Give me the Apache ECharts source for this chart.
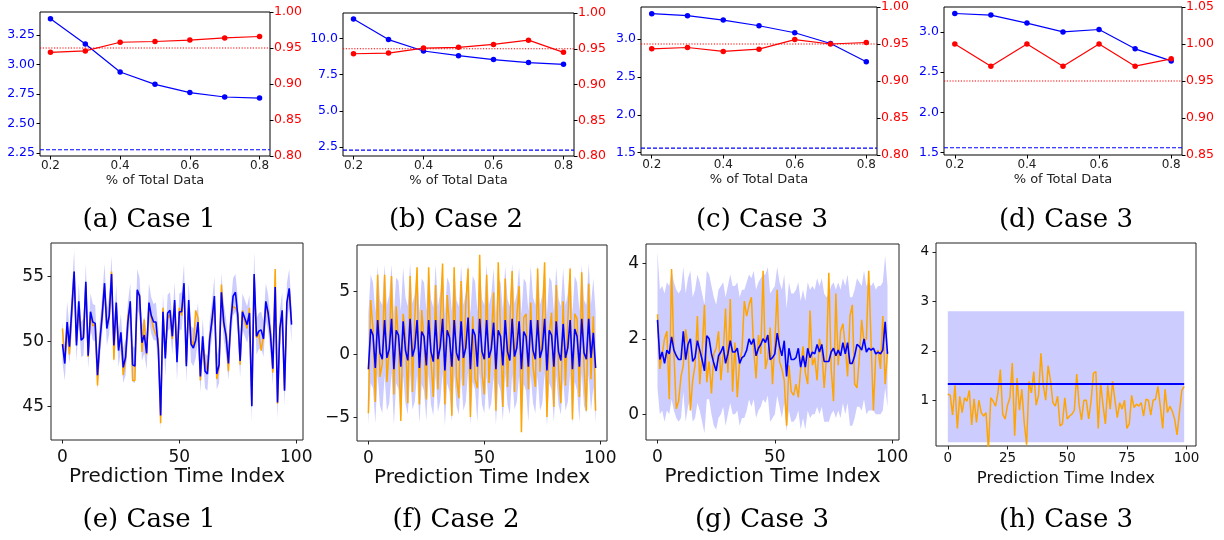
<!DOCTYPE html>
<html><head><meta charset="utf-8">
<script src="https://cdn.jsdelivr.net/npm/echarts@6/dist/echarts.min.js"></script>
<style>html,body{margin:0;padding:0;background:#fff}#c{width:1224px;height:540px}</style>
</head><body><div id="c"></div>
<script>
// ---------- top row data ----------
const pctX = [0.2, 0.3, 0.4, 0.5, 0.6, 0.7, 0.8];
const topXTicks = [0.2, 0.4, 0.6, 0.8];
const aBlue = [3.388, 3.174, 2.937, 2.832, 2.762, 2.725, 2.716];
const aRed = [0.944, 0.946, 0.958, 0.959, 0.961, 0.964, 0.966];
const aBlueRef = 2.278, aRedRef = 0.95;
const aLeftTicks = [2.25, 2.5, 2.75, 3.0, 3.25];
const bBlue = [11.36, 9.93, 9.14, 8.82, 8.55, 8.34, 8.22];
const bRed = [0.943, 0.944, 0.951, 0.952, 0.956, 0.962, 0.945];
const bBlueRef = 2.29, bRedRef = 0.95;
const bLeftTicks = [2.5, 5.0, 7.5, 10.0];
const cBlue = [3.335, 3.308, 3.251, 3.176, 3.083, 2.942, 2.70];
const cRed = [0.9435, 0.9453, 0.940, 0.943, 0.956, 0.950, 0.952];
const cBlueRef = 1.562, cRedRef = 0.95;
const cLeftTicks = [1.5, 2.0, 2.5, 3.0];
const dBlue = [3.229, 3.21, 3.11, 3.00, 3.03, 2.79, 2.64];
const dRed = [1.0, 0.97, 1.0, 0.97, 1.0, 0.97, 0.98];
const dBlueRef = 1.56, dRedRef = 0.95;
const dLeftTicks = [1.5, 2.0, 2.5, 3.0];
const rightTicksABC = [0.80, 0.85, 0.90, 0.95, 1.00];
const rightTicksD = [0.85, 0.90, 0.95, 1.00, 1.05];

// ---------- bottom row data ----------
const eTruth = [51.0,48.5,51.3,49.0,52.2,55.4,50.0,52.5,50.3,50.5,54.4,48.8,52.0,51.2,51.3,46.6,50.2,52.2,54.2,51.2,51.8,55.4,48.6,52.7,49.5,50.5,47.4,48.6,52.0,52.8,47.0,47.0,53.8,53.6,49.2,51.7,49.0,52.7,51.8,51.0,50.5,50.2,43.7,52.6,48.9,51.8,52.1,50.2,53.0,48.7,52.6,52.0,54.3,48.3,52.7,50.1,49.7,52.4,51.8,47.0,49.8,48.5,47.7,50.4,51.5,53.0,47.1,48.0,54.4,51.2,50.6,47.7,51.8,52.7,52.6,52.2,48.2,52.4,51.5,51.0,52.6,45.1,55.0,50.3,50.6,49.3,50.4,52.8,52.0,50.8,47.6,55.6,45.2,50.8,52.2,46.3,52.8,54.0,51.5];
const ePred = [49.8,48.3,51.5,49.6,52.5,55.4,49.7,53.1,50.1,50.3,54.6,48.9,52.3,51.5,51.4,47.4,50.0,52.0,54.5,51.0,52.0,55.2,49.7,53.0,49.3,50.7,48.0,48.8,51.5,53.1,48.2,48.1,54.0,53.5,49.9,50.5,49.1,53.0,52.0,51.5,51.5,49.5,44.3,52.3,48.7,52.2,52.4,50.4,53.2,48.4,52.3,52.3,54.5,48.1,53.2,49.8,49.5,50.1,51.5,47.3,50.4,47.7,47.5,50.2,51.7,53.5,47.5,48.2,53.8,51.5,50.4,48.3,51.5,53.5,53.8,52.0,48.5,52.3,51.8,51.3,52.2,45.0,55.2,50.4,50.8,50.9,50.2,53.1,52.2,50.5,47.9,54.2,45.3,51.0,52.4,46.2,53.0,54.1,51.3];
const eLow = [48.4,47.0,50.0,48.3,50.8,53.7,48.5,51.6,48.8,48.9,53.1,47.9,50.9,50.1,50.0,46.3,48.7,50.6,53.0,49.7,50.6,53.7,48.3,51.6,48.0,49.3,46.8,47.4,50.0,51.7,46.9,46.8,52.5,52.0,48.5,49.1,47.8,51.6,50.6,50.1,50.1,48.1,43.2,50.9,47.3,50.8,51.0,49.0,51.8,47.0,50.9,50.9,53.0,46.8,51.8,48.4,48.1,48.7,50.1,46.1,49.0,46.4,46.2,48.8,50.3,52.0,46.3,46.8,52.3,50.1,49.0,47.0,50.1,52.0,52.3,50.6,47.2,50.9,50.4,49.9,50.8,43.8,53.6,49.0,49.4,49.5,48.8,51.7,50.8,49.1,46.6,52.7,44.0,49.6,51.0,45.0,51.6,52.6,49.9];
const eHigh = [51.5,49.7,53.1,51.0,54.0,57.0,51.2,54.5,51.5,51.8,56.0,50.4,53.7,52.9,52.8,48.9,51.5,53.5,56.0,52.5,53.5,56.6,51.1,54.4,50.8,52.1,49.5,50.2,53.0,54.5,49.7,49.5,55.6,54.9,51.3,51.9,50.6,54.5,53.4,52.9,53.0,51.0,45.8,53.7,50.1,53.6,53.8,51.8,54.6,49.8,53.7,53.8,56.0,49.5,54.6,51.2,51.0,51.5,53.0,48.7,51.8,49.1,48.9,51.6,53.1,55.0,48.9,49.6,55.3,52.9,51.8,49.7,52.9,54.9,55.2,53.4,49.9,53.7,53.2,52.7,53.6,46.5,56.9,51.8,52.2,52.3,51.6,54.5,53.6,51.9,49.3,55.8,46.7,52.4,53.8,47.6,54.5,55.6,52.7];

const fTruth = [-4.7,4.3,2.0,-3.8,6.3,-1.8,-0.8,6.3,-2.2,0.5,6.2,-3.2,3.8,1.0,-5.3,3.2,1.5,-3.9,6.2,-3.0,2.8,6.9,-4.0,3.5,1.2,-3.6,6.9,-0.5,-3.4,5.5,-2.8,2.5,7.2,-4.0,4.7,2.2,-4.9,6.9,-1.8,-3.5,5.8,-2.5,3.9,6.8,-5.0,3.0,-2.0,-2.7,7.9,-1.5,-3.2,6.3,-2.3,1.0,4.9,-4.5,7.3,1.7,-4.2,6.0,-2.6,2.4,6.6,-3.0,3.0,5.4,-6.2,2.9,3.2,-2.8,4.1,-1.0,-2.6,6.8,-1.4,2.2,7.3,-5.0,1.6,3.3,-4.2,5.5,-1.2,-3.9,4.2,-2.5,2.6,6.8,-5.2,3.2,2.8,-3.4,6.5,-1.0,-4.5,5.6,-2.0,3.0,-4.5];
const fPred = [-1.2,2.0,1.5,-1.1,2.7,0.1,-0.4,2.7,-0.3,0.4,2.8,-1.2,1.9,1.5,-1.0,2.6,0.3,-0.5,2.8,-0.2,0.5,2.7,-1.1,1.8,1.4,-0.9,2.7,0.2,-0.6,2.7,-0.4,0.6,2.8,-1.3,1.9,1.3,-1.0,2.7,0.1,-0.5,2.6,-0.3,0.5,2.9,-1.2,2.0,1.5,-1.0,2.8,0.2,-0.4,2.7,-0.3,0.4,2.5,-1.2,1.9,1.4,-0.9,2.7,0.2,-0.5,2.8,-0.2,0.5,2.6,-1.2,1.8,1.4,-1.0,2.7,0.3,-0.4,2.7,-0.3,0.4,2.8,-1.3,1.9,1.5,-1.0,2.6,0.2,-0.5,2.4,-0.3,0.5,2.7,-1.2,2.0,1.4,-1.0,2.8,0.1,-0.4,2.8,-0.3,1.7,-1.1];
const fLow = [-5.6,-2.3,-2.7,-5.5,-1.6,-4.1,-4.7,-1.7,-4.5,-3.9,-1.5,-5.6,-2.3,-2.8,-5.4,-1.7,-3.9,-4.8,-1.6,-4.4,-3.8,-1.6,-5.5,-2.4,-2.9,-5.3,-1.6,-4.0,-4.9,-1.7,-4.6,-3.7,-1.5,-5.7,-2.3,-3.0,-5.4,-1.6,-4.1,-4.8,-1.8,-4.5,-3.8,-1.4,-5.6,-2.2,-2.8,-5.4,-1.5,-4.0,-4.7,-1.7,-4.5,-3.9,-1.8,-5.6,-2.3,-2.9,-5.3,-1.6,-4.0,-4.8,-1.6,-4.4,-3.8,-1.7,-5.6,-2.4,-2.9,-5.4,-1.6,-3.9,-4.7,-1.7,-4.5,-3.9,-1.5,-5.7,-2.3,-2.8,-5.4,-1.7,-4.0,-4.8,-2.0,-4.5,-3.8,-1.6,-5.6,-2.2,-2.9,-5.4,-1.5,-4.1,-4.7,-1.6,-4.5,-2.6,-5.5];
const fHigh = [3.2,6.3,5.7,3.3,7.0,4.3,3.9,7.1,3.9,4.7,7.1,3.2,6.1,5.8,3.4,6.9,4.5,3.8,7.2,4.0,4.8,7.0,3.3,6.0,5.7,3.5,7.0,4.4,3.7,7.1,3.8,4.9,7.1,3.1,6.1,5.6,3.4,7.0,4.3,3.8,7.0,3.9,4.8,7.2,3.2,6.2,5.8,3.4,7.1,4.4,3.9,7.1,3.9,4.7,6.8,3.2,6.1,5.7,3.5,7.0,4.4,3.8,7.2,4.0,4.8,6.9,3.2,6.0,5.7,3.4,7.0,4.5,3.9,7.1,3.9,4.7,7.1,3.1,6.1,5.8,3.4,6.9,4.4,3.8,6.8,3.9,4.8,7.0,3.2,6.2,5.7,3.4,7.1,4.3,3.9,7.2,3.9,6.0,3.3];

const gTruth = [2.65,1.2,1.6,2.0,2.2,0.4,3.85,1.6,0.15,0.35,1.0,1.3,2.25,1.8,0.1,0.9,1.3,2.6,0.8,1.6,2.9,0.85,1.4,0.55,1.6,1.75,2.2,0.9,1.6,2.8,1.1,3.05,0.6,1.9,0.45,1.4,1.7,3.0,2.6,2.9,3.1,1.7,0.95,2.1,1.6,3.8,1.2,1.5,2.3,0.8,1.9,3.3,1.4,1.2,0.9,-0.3,1.3,0.6,0.5,0.8,0.45,1.2,1.8,1.1,0.8,2.75,1.3,1.5,0.9,2.0,1.7,0.7,1.5,3.75,1.2,0.35,3.2,1.3,2.2,2.4,1.8,1.0,2.6,2.9,0.8,0.7,1.5,2.5,1.9,2.0,3.8,1.9,0.1,1.6,1.7,1.2,2.6,0.8,1.65];
const gPred = [2.5,1.45,1.65,1.35,1.7,1.6,2.05,1.7,1.55,1.45,1.45,2.2,1.45,1.85,2.0,1.4,1.5,1.95,1.7,1.45,1.15,2.08,2.0,1.6,1.35,1.15,1.55,1.65,1.8,1.35,1.6,1.95,1.65,1.65,1.75,1.35,1.5,1.55,1.7,2.0,1.85,2.0,1.55,1.75,1.85,2.0,1.9,2.1,1.45,1.5,1.6,2.15,1.8,1.55,1.95,1.0,1.75,1.45,1.45,1.5,1.75,1.25,1.55,1.25,1.75,1.5,1.65,1.6,1.85,1.65,1.85,1.4,1.4,1.4,1.65,1.75,1.55,1.7,1.55,1.9,1.6,1.9,1.35,1.35,1.55,1.85,1.8,1.7,2.0,1.65,1.75,1.7,1.75,1.6,1.65,1.6,1.7,2.45,1.6];
const gLow = [0.7,0.0,0.1,-0.2,0.1,0.0,0.4,0.1,-0.1,-0.2,-0.1,0.6,-0.2,0.2,0.4,-0.2,-0.1,0.3,0.1,-0.2,-0.5,0.4,0.4,0.0,-0.3,-0.4,-0.1,0.0,0.2,-0.3,0.0,0.3,0.0,0.0,0.1,-0.3,-0.1,-0.1,0.1,0.4,0.2,0.4,-0.1,0.1,0.2,0.4,0.3,0.5,-0.2,-0.1,0.0,0.5,0.2,-0.1,0.3,-0.45,0.1,-0.2,-0.2,-0.1,0.1,-0.4,-0.1,-0.4,0.1,-0.1,0.0,0.0,0.2,0.0,0.2,-0.2,-0.2,-0.2,0.0,0.1,-0.1,0.1,-0.1,0.3,0.0,0.3,-0.3,-0.3,-0.1,0.2,0.2,0.1,0.4,0.0,0.1,0.1,0.1,0.0,0.0,0.0,0.1,0.7,0.2];
const gHigh = [4.3,3.3,3.4,3.2,3.5,3.4,3.8,3.5,3.3,3.2,3.3,3.9,3.2,3.6,3.8,3.1,3.3,3.7,3.5,3.2,2.9,3.8,3.7,3.4,3.1,2.9,3.3,3.4,3.5,3.1,3.4,3.7,3.4,3.4,3.5,3.1,3.3,3.3,3.5,3.7,3.6,3.8,3.3,3.5,3.6,3.7,3.7,3.9,3.2,3.3,3.4,3.9,3.5,3.3,3.7,2.8,3.5,3.2,3.2,3.3,3.5,3.0,3.3,3.0,3.5,3.3,3.4,3.3,3.6,3.4,3.6,3.2,3.1,3.2,3.4,3.5,3.3,3.5,3.3,3.6,3.4,3.7,3.1,3.1,3.3,3.6,3.5,3.4,3.8,3.4,3.5,3.4,3.5,3.3,3.4,3.4,3.5,4.2,3.4];

const hTruth = [1.13,1.1,0.7,1.3,0.43,1.08,0.75,1.05,0.98,1.2,0.5,1.03,0.55,1.0,0.75,0.68,0.75,0.0,1.05,0.98,0.88,1.15,1.62,0.72,0.62,0.9,1.05,1.75,0.28,1.45,0.8,1.22,0.55,0.1,1.38,1.15,1.58,0.9,1.1,1.95,1.3,1.0,1.7,1.4,0.95,0.88,1.08,0.48,0.52,1.05,0.62,0.68,0.72,0.8,1.53,0.9,0.6,1.0,1.0,0.62,0.98,1.55,1.58,0.43,1.35,0.9,0.52,1.3,0.82,1.38,1.0,0.65,0.95,0.82,1.0,0.43,0.52,1.1,0.85,0.92,0.88,0.95,0.68,1.02,1.0,0.7,1.0,1.02,1.28,0.88,0.43,1.22,0.75,0.88,0.78,0.62,0.3,0.75,1.2,1.28];
const hPred = 1.33;
const hBand = [0.15, 2.8];

// ---------- build ----------
const grids = [], xAxes = [], yAxes = [], series = [];
const BLUE = '#0000ff', RED = '#ff0000', ORANGE = '#ffa500', BAND = '#ccccff';
const SANS = 'DejaVu Sans';
const minus = s => String(s).replace('-', '\u2212');

function addGrid(r, border) {
  grids.push({left: r[0], top: r[1], width: r[2], height: r[3], show: true,
    borderColor: border, borderWidth: 1, backgroundColor: 'rgba(0,0,0,0)'});
  return grids.length - 1;
}
function axis(o) {
  return Object.assign({
    type: 'value', scale: true, splitLine: {show: false},
    axisLine: {show: false, onZero: false},
  }, o);
}
function refLine(xi, yi, x0, x1, v, color, dash) {
  return {type: 'line', xAxisIndex: xi, yAxisIndex: yi, data: [[x0, v], [x1, v]], symbol: 'none',
    silent: true, z: 1, lineStyle: {color: color, width: 1.2, type: dash}};
}

function topPanel(r, blue, red, blueRef, redRef, lMin, lMax, lTicks, lDec, rMin, rMax, rTicks) {
  const g = addGrid(r, '#000');
  const xi = xAxes.length;
  const xMin = 0.17, xMax = 0.83;
  xAxes.push(axis({gridIndex: g, min: xMin, max: xMax,
    axisTick: {show: true, customValues: topXTicks, length: 3.5, lineStyle: {color: '#000'}},
    axisLabel: {customValues: topXTicks, formatter: v => v.toFixed(1), fontSize: 12, color: '#222', margin: 4, fontFamily: SANS},
    name: '% of Total Data', nameLocation: 'middle', nameGap: 18,
    nameTextStyle: {fontSize: 13, fontFamily: SANS, color: '#222'}}));
  const yi = yAxes.length;
  yAxes.push(axis({gridIndex: g, position: 'left', min: lMin, max: lMax,
    axisTick: {show: true, customValues: lTicks, length: 3.5, lineStyle: {color: '#000'}},
    axisLabel: {customValues: lTicks, formatter: v => v.toFixed(lDec), fontSize: 12.5, color: BLUE, margin: 5, fontFamily: SANS}}));
  yAxes.push(axis({gridIndex: g, position: 'right', min: rMin, max: rMax,
    axisTick: {show: true, customValues: rTicks, length: 3.5, lineStyle: {color: '#000'}},
    axisLabel: {customValues: rTicks, formatter: v => v.toFixed(2), fontSize: 12.5, color: RED, margin: 4, fontFamily: SANS}}));
  series.push(refLine(xi, yi, xMin, xMax, blueRef, BLUE, [4, 2]));
  series.push(refLine(xi, yi + 1, xMin, xMax, redRef, RED, [1.2, 1.6]));
  series.push({type: 'line', xAxisIndex: xi, yAxisIndex: yi, data: pctX.map((x, i) => [x, blue[i]]), z: 3,
    symbol: 'circle', symbolSize: 5.5, itemStyle: {color: BLUE}, lineStyle: {color: BLUE, width: 1.2}});
  series.push({type: 'line', xAxisIndex: xi, yAxisIndex: yi + 1, data: pctX.map((x, i) => [x, red[i]]), z: 3,
    symbol: 'circle', symbolSize: 5.5, itemStyle: {color: RED}, lineStyle: {color: RED, width: 1.2}});
}

function bandSeries(xi, yi, xs, lo, hi) {
  return {type: 'custom', xAxisIndex: xi, yAxisIndex: yi, clip: true, silent: true, z: 1,
    data: [[xs[0], lo[0]]],
    renderItem: function (params, api) {
      const pts = [];
      for (let i = 0; i < xs.length; i++) pts.push(api.coord([xs[i], hi[i]]));
      for (let i = xs.length - 1; i >= 0; i--) pts.push(api.coord([xs[i], lo[i]]));
      return {type: 'polygon', shape: {points: pts}, style: {fill: BAND}};
    }};
}

function bottomPanel(r, truth, pred, lo, hi, xMin, xMax, xTicks, yMin, yMax, yTicks, fs, nfs, lblMargin, nameGap, predWidth) {
  const g = addGrid(r, '#222');
  const xs = truth.map((_, i) => i);
  const xi = xAxes.length;
  xAxes.push(axis({gridIndex: g, min: xMin, max: xMax,
    axisTick: {show: true, customValues: xTicks, length: 3.5, lineStyle: {color: '#222'}},
    axisLabel: {customValues: xTicks, fontSize: fs, color: '#111', margin: lblMargin, fontFamily: SANS},
    name: 'Prediction Time Index', nameLocation: 'middle', nameGap: nameGap,
    nameTextStyle: {fontSize: nfs, fontFamily: SANS, color: '#111'}}));
  const yi = yAxes.length;
  yAxes.push(axis({gridIndex: g, position: 'left', min: yMin, max: yMax,
    axisTick: {show: true, customValues: yTicks, length: 3.5, lineStyle: {color: '#222'}},
    axisLabel: {customValues: yTicks, formatter: v => minus(v), fontSize: fs, color: '#111', margin: 7, fontFamily: SANS}}));
  series.push(bandSeries(xi, yi, xs, lo, hi));
  series.push({type: 'line', xAxisIndex: xi, yAxisIndex: yi, data: xs.map(i => [i, truth[i]]), z: 2,
    symbol: 'none', lineStyle: {color: ORANGE, width: 1.5}});
  series.push({type: 'line', xAxisIndex: xi, yAxisIndex: yi, data: xs.map(i => [i, pred[i]]), z: 3,
    symbol: 'none', lineStyle: {color: BLUE, width: predWidth}});
}

topPanel([40, 12, 230, 144], aBlue, aRed, aBlueRef, aRedRef, 2.225, 3.445, aLeftTicks, 2, 0.8, 1.0, rightTicksABC);
topPanel([343, 13, 231, 143], bBlue, bRed, bBlueRef, bRedRef, 1.88, 11.77, bLeftTicks, 1, 0.8, 1.0, rightTicksABC);
topPanel([641, 7, 236, 148], cBlue, cRed, cBlueRef, cRedRef, 1.47, 3.423, cLeftTicks, 1, 0.8, 1.0, rightTicksABC);
topPanel([944, 7, 238, 148], dBlue, dRed, dBlueRef, dRedRef, 1.47, 3.31, dLeftTicks, 1, 0.85, 1.05, rightTicksD);

const hLow = hTruth.map(() => hBand[0]);
const hHigh = hTruth.map(() => hBand[1]);
const hPredArr = hTruth.map(() => hPred);

bottomPanel([51, 243, 252, 197], eTruth, ePred, eLow, eHigh, -4.9, 102.9, [0, 50, 100], 42.4, 57.6, [45, 50, 55], 17, 20, 9, 27, 1.6);
bottomPanel([357, 245, 250, 196], fTruth, fPred, fLow, fHigh, -4.9, 102.9, [0, 50, 100], -6.9, 8.67, [-5, 0, 5], 17, 20, 9, 27, 1.6);
bottomPanel([646, 244, 253, 196], gTruth, gPred, gLow, gHigh, -4.9, 102.9, [0, 50, 100], -0.68, 4.51, [0, 2, 4], 17, 20, 9, 27, 1.6);
bottomPanel([936, 243, 260, 203], hTruth, hPredArr, hLow, hHigh, -4.95, 103.95, [0, 25, 50, 75, 100], 0.074, 4.18, [1, 2, 3, 4], 13.5, 16.5, 5, 24, 2);

const captions = [
  ['(a) Case 1', 149, 220], ['(b) Case 2', 456, 220], ['(c) Case 3', 762, 220], ['(d) Case 3', 1066, 220],
  ['(e) Case 1', 149, 520], ['(f) Case 2', 456, 520], ['(g) Case 3', 762, 520], ['(h) Case 3', 1066, 520]
];

const chart = echarts.init(document.getElementById('c'));
chart.setOption({
  animation: false,
  backgroundColor: '#fff',
  grid: grids, xAxis: xAxes, yAxis: yAxes, series: series,
  graphic: captions.map(c => ({type: 'text', x: c[1], y: c[2], silent: true,
    style: {text: c[0], font: '26px "DejaVu Serif"', fill: '#000', align: 'center', verticalAlign: 'middle'}}))
});
</script></body></html>
